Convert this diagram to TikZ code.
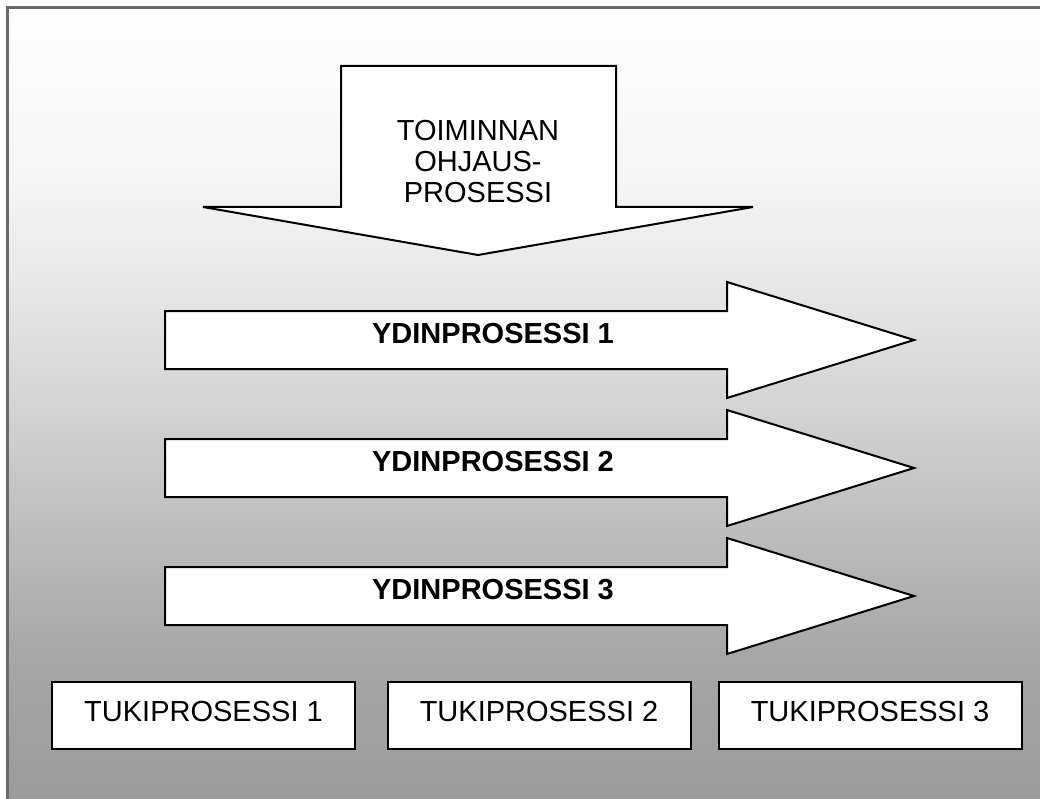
\documentclass[tikz,border=0pt]{standalone}
\usepackage{fontspec}
\setmainfont{Liberation Sans}

% greys of the backdrop, light at the top, darker towards the bottom
\definecolor{g254}{RGB}{254,254,254}
\definecolor{g250}{RGB}{250,250,250}
\definecolor{g245}{RGB}{245,245,245}
\definecolor{g232}{RGB}{232,232,232}
\definecolor{g210}{RGB}{210,210,210}
\definecolor{g187}{RGB}{187,187,187}
\definecolor{g166}{RGB}{166,166,166}
\definecolor{g155}{RGB}{155,155,155}
\definecolor{framegray}{RGB}{106,106,106}

\pgfdeclareverticalshading{backdrop}{100bp}{%
  color(0bp)=(g155); color(25bp)=(g155); color(33.79bp)=(g166);
  color(41.37bp)=(g187); color(49.27bp)=(g210); color(57.81bp)=(g232);
  color(64.13bp)=(g245); color(69.18bp)=(g250); color(75bp)=(g254);
  color(100bp)=(g254)}

\tikzset{
  blockarrow/.style={draw=black, line width=2pt, fill=white, line join=miter},
  lbl/.style={font=\fontsize{29}{31}\selectfont, inner sep=0pt},
  boldlbl/.style={font=\fontsize{29}{31}\selectfont\bfseries, inner sep=0pt},
  tukibox/.style={draw=black, line width=2pt, fill=white, inner sep=0pt,
    minimum width=303pt, minimum height=67pt,
    text height=21pt, text depth=10pt,
    font=\fontsize{29}{31}\selectfont},
}

\begin{document}
\begin{tikzpicture}[x=1pt, y=-1pt]
  \useasboundingbox (0,0) rectangle (1040,799);

  % backdrop with its frame on the top and left edges
  \shade[shading=backdrop] (7.5,7.5) rectangle (1040,799);
  \draw[framegray, line width=3pt] (7.5,799) -- (7.5,7.5) -- (1040,7.5);

  % steering process: block arrow pointing down
  \draw[blockarrow] (341,66) -- (616,66) -- (616,207) -- (753,207)
    -- (478,255) -- (203,207) -- (341,207) -- cycle;
  \node[lbl, align=center] (ohjaus) at (478,161.5)
    {TOIMINNAN\\OHJAUS-\\PROSESSI};

  % core processes: block arrows pointing right
  \foreach \k/\cy in {1/340, 2/468, 3/596} {
    \draw[blockarrow] (165,\cy-29) -- (727,\cy-29) -- (727,\cy-58)
      -- (914,\cy) -- (727,\cy+58) -- (727,\cy+29) -- (165,\cy+29) -- cycle;
    \node[boldlbl, anchor=base] (ydin\k) at (493,\cy+3) {YDINPROSESSI \k};
  }

  % support processes
  \node[tukibox] (tuki1) at (203.5,715.5) {TUKIPROSESSI 1};
  \node[tukibox] (tuki2) at (539,715.5) {TUKIPROSESSI 2};
  \node[tukibox] (tuki3) at (870,715.5) {TUKIPROSESSI 3};
\end{tikzpicture}
\end{document}
